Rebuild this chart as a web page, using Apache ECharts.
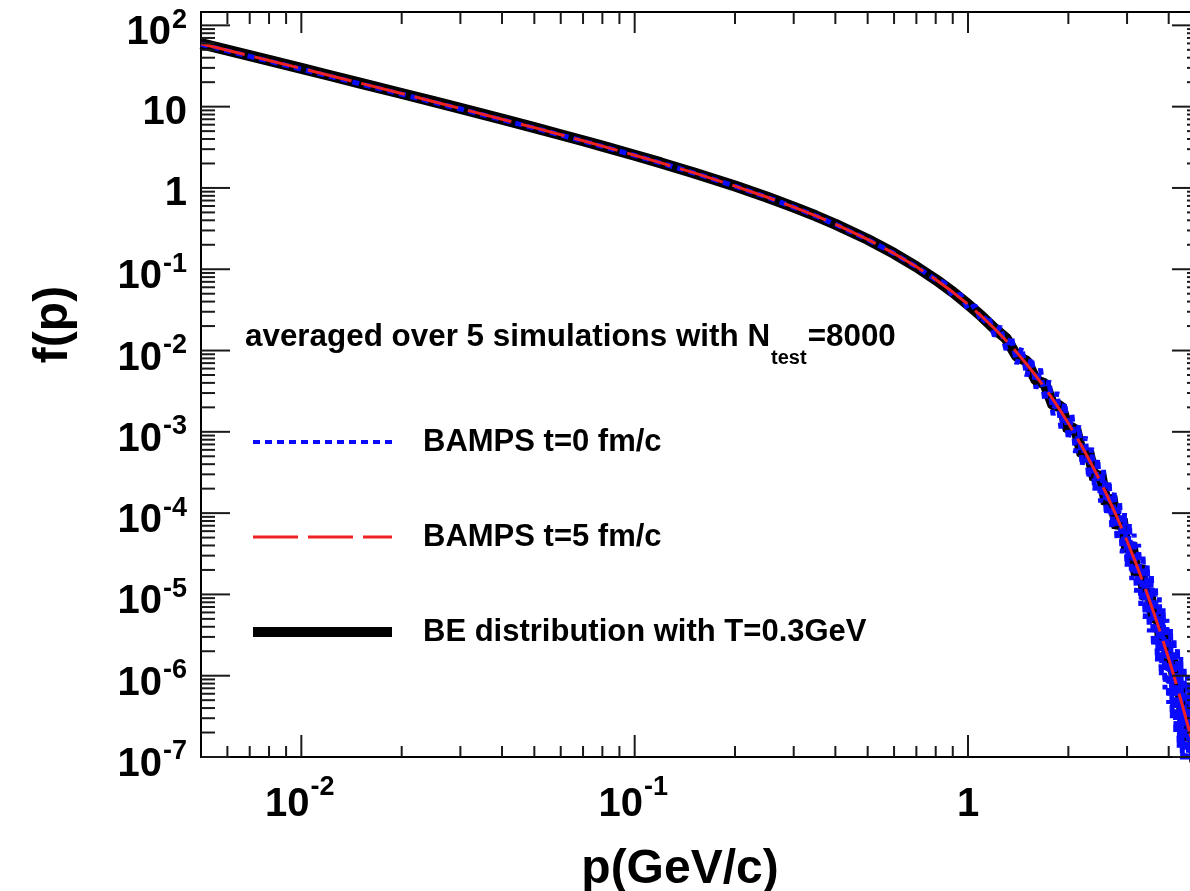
<!DOCTYPE html>
<html>
<head>
<meta charset="utf-8">
<script src="https://cdn.jsdelivr.net/npm/echarts@6/dist/echarts.min.js"></script>
<style>
html,body{margin:0;padding:0;background:#ffffff;}
#chart{width:1190px;height:891px;}
</style>
</head>
<body>
<div id="chart"></div>
<script>
// ---------------- data ----------------
const seriesNames = ['BAMPS t=0 fm/c', 'BAMPS t=5 fm/c', 'BE distribution with T=0.3GeV'];

// BE distribution (black)
const beMomentum = [0.005,0.006,0.007,0.008,0.01,0.012,0.015,0.02,0.025,0.03,0.04,0.05,0.06,0.07,0.08,0.1,0.12,0.15,0.2,0.25,0.3,0.35,0.4,0.5,0.6,0.7,0.8,0.9,1.0,1.1,1.2,
 1.3,1.4,1.5,1.6,1.7,1.8,1.9,2.0,2.1,2.2,2.3,2.4,2.5,2.6,2.7,2.8,2.9,3.0,3.1,3.2,3.3,3.4,3.5,3.6,3.7,3.8,3.9,4.0,4.1,4.2,4.3,4.4,4.5,4.6,4.7,4.8,4.9,5.0];
const beValues = [59.5,49.5,42.36,37.0,29.5,24.5,19.5,14.51,11.51,9.508,7.011,5.514,4.517,3.805,3.272,2.528,2.033,1.5415,1.0551,0.7687,0.582,0.4523,0.358,0.2329,0.1565,0.1074,0.07467,0.0524,0.03699,0.02623,0.01866,
 0.0142,0.0085,0.0074,0.0043,0.0039,0.0021,0.0021,0.00105,0.00112,0.00052,0.00058,0.00026,0.00031,0.000130,0.000160,0.000066,0.000085,0.000034,0.000043,0.0000172,0.0000225,0.0000088,0.0000118,0.0000046,0.0000061,0.0000024,0.0000032,0.00000125,0.0000016,0.00000064,0.00000085,0.00000032,0.00000044,0.00000016,0.00000022,0.00000008,0.00000011,0.00000004];

// BAMPS t=5 fm/c (red dashed)
const t5Momentum = [0.005,0.006,0.007,0.008,0.01,0.012,0.015,0.02,0.025,0.03,0.04,0.05,0.06,0.07,0.08,0.1,0.12,0.15,0.2,0.25,0.3,0.35,0.4,0.5,0.6,0.7,0.8,0.9,1.0,1.1,1.2,1.3,1.4,1.5,1.6,1.7,1.8,1.9,2.0,2.2,2.4,2.6,2.8,3.0,3.2,3.4,3.6,3.8,4.0,4.2,4.4,4.6,4.8,5.0];
const t5Values = [59.5,49.5,42.36,37.0,29.5,24.5,19.5,14.51,11.51,9.508,7.011,5.514,4.517,3.805,3.272,2.528,2.033,1.5415,1.0551,0.7687,0.582,0.4523,0.358,0.2329,0.1565,0.1074,0.07467,0.0524,0.03699,0.02623,0.01866,0.0133,0.009492,0.006784,0.004851,0.003472,0.002485,0.00178,0.001274,0.000654,0.0003356,0.0001723,0.0000884,0.0000454,0.0000233,0.00001197,0.00000614,0.00000315,0.00000162,0.00000083,0.000000427,0.000000219,0.000000112,0.000000058];

// BAMPS t=0 fm/c (blue dotted, noisy tail)
const t0Momentum = [0.005,0.006,0.007,0.008,0.01,0.012,0.015,0.02,0.025,0.03,0.04,0.05,0.06,0.07,0.08,0.1,0.12,0.15,0.2,0.25,0.3,0.35,0.4,0.5,0.6,0.7,0.8,
 0.85,0.9,0.95,1.0,1.05,1.1,1.15,1.2,1.25,1.3,1.35,1.4,1.45,1.5,1.55,1.6,1.65,1.7,1.75,1.8,1.85,1.9,1.95,2.0,
 2.05,2.1,2.15,2.2,2.25,2.3,2.35,2.4,2.45,2.5,2.55,2.6,2.65,2.7,2.75,2.8,2.85,2.9,2.95,3.0,
 3.05,3.1,3.15,3.2,3.25,3.3,3.35,3.4,3.45,3.5,3.55,3.6,3.65,3.7,3.75,3.8,3.85,3.9,3.95,4.0,
 4.05,4.1,4.15,4.2,4.25,4.3,4.35,4.4,4.45,4.5,4.55,4.6,4.65,4.7];
const t0Values = [58.5,48.6,41.5,36.3,28.9,24.0,19.1,14.2,11.3,9.35,6.9,5.45,4.47,3.77,3.24,2.51,2.02,1.535,1.05,0.766,0.58,0.451,0.357,0.232,0.156,0.107,0.0745,
 0.068,0.047,0.049,0.032,0.036,0.022,0.027,0.0150,0.0200,0.0102,0.0150,0.0068,0.0110,0.0048,0.0082,0.0034,0.0060,0.0024,0.0043,0.0016,0.0031,0.0011,0.0023,0.00080,
 0.00165,0.00055,0.00120,0.00038,0.00088,0.00027,0.00064,0.00019,0.00047,0.000135,0.00034,0.000095,0.00025,0.000066,0.000185,0.000046,0.000135,0.000032,0.000100,0.000022,
 0.000075,0.000015,0.000056,0.0000105,0.000042,0.0000072,0.000031,0.0000050,0.000023,0.0000034,0.000017,0.0000023,0.0000125,0.0000015,0.0000092,0.0000010,0.0000068,0.00000068,0.0000050,0.00000045,
 0.0000038,0.00000030,0.0000029,0.00000020,0.0000022,0.00000013,0.0000017,0.00000008,0.0000013,0.00000005,0.0000010,0.00000004,0.00000080,0.00000003];

// ticks and labels
const xMajorTicks = [0.01, 0.1, 1];
const xMinorTicks = [0.006,0.007,0.008,0.009,0.02,0.03,0.04,0.05,0.06,0.07,0.08,0.09,0.2,0.3,0.4,0.5,0.6,0.7,0.8,0.9,2,3,4];
const yMajorTicks = [1e-7,1e-6,1e-5,1e-4,1e-3,1e-2,1e-1,1,10,100];
const yMinorSteps = [2,3,4,5,6,7,8,9];
const xTickLabels = [['10','-2'], ['10','-1'], ['1','']];
const yTickLabels = [['10','-7'],['10','-6'],['10','-5'],['10','-4'],['10','-3'],['10','-2'],['10','-1'],['1',''],['10',''],['10','2']];

const annotationMain = 'averaged over 5 simulations with N';
const annotationSub = 'test';
const annotationTail = '=8000';
const xTitle = 'p(GeV/c)';
const yTitle = 'f(p)';

const X_MIN = 0.005, X_MAX = 5, Y_MIN = 1e-7, Y_MAX = 146;

// ---------------- helpers ----------------
const FAM = '"Liberation Sans", Arial, Helvetica, sans-serif';
const MAIN_FONT = 'bold 40px ' + FAM;
const SUP_FONT = 'bold 27px ' + FAM;
const mctx = document.createElement('canvas').getContext('2d');
function textW(str, font) { mctx.font = font; return mctx.measureText(str).width; }
const zip = (a, b) => a.map((v, i) => [v, b[i]]);
const yMinorTicks = [];
yMajorTicks.forEach(d => yMinorSteps.forEach(s => { const v = d * s; if (v < Y_MAX) yMinorTicks.push(v); }));

function txt(x, y, text, font, align) {
  return {type: 'text', x: x, y: y, silent: true,
          style: {text: text, font: font, fill: '#000', textAlign: align, textVerticalAlign: 'middle'}};
}

function xTickSeries(vals, lenB, lenT) {
  return {
    type: 'custom', silent: true, z: 10, clip: false,
    data: vals.map(v => [v, Y_MIN]), encode: {x: 0, y: 1},
    renderItem: function (params, api) {
      const cs = params.coordSys;
      const px = api.coord([api.value(0), Y_MIN])[0];
      const yb = cs.y + cs.height, yt = cs.y;
      const st = {stroke: '#1a1a1a', lineWidth: 2};
      return {type: 'group', children: [
        {type: 'line', shape: {x1: px, y1: yb, x2: px, y2: yb - lenB}, style: st},
        {type: 'line', shape: {x1: px, y1: yt, x2: px, y2: yt + lenT}, style: st}
      ]};
    }
  };
}
function yTickSeries(vals, len) {
  return {
    type: 'custom', silent: true, z: 10, clip: false,
    data: vals.map(v => [X_MIN, v]), encode: {x: 0, y: 1},
    renderItem: function (params, api) {
      const cs = params.coordSys;
      const py = api.coord([X_MIN, api.value(1)])[1];
      const xl = cs.x, xr = cs.x + cs.width;
      const st = {stroke: '#1a1a1a', lineWidth: 2};
      return {type: 'group', children: [
        {type: 'line', shape: {x1: xl, y1: py, x2: xl + len, y2: py}, style: st},
        {type: 'line', shape: {x1: xr, y1: py, x2: xr - len, y2: py}, style: st}
      ]};
    }
  };
}
function xLabelSeries() {
  return {
    type: 'custom', silent: true, z: 11, clip: false,
    data: xMajorTicks.map((v, i) => [v, Y_MIN, i]), encode: {x: 0, y: 1},
    renderItem: function (params, api) {
      const cs = params.coordSys;
      const px = api.coord([api.value(0), Y_MIN])[0];
      const lab = xTickLabels[api.value(2)];
      const yb = cs.y + cs.height;
      if (!lab[1]) return {type: 'group', children: [txt(px, yb + 48, lab[0], MAIN_FONT, 'center')]};
      const wm = textW(lab[0], MAIN_FONT), ws = textW(lab[1], SUP_FONT);
      const left = px - 2 - (wm + ws) / 2;
      return {type: 'group', children: [
        txt(left, yb + 48, lab[0], MAIN_FONT, 'left'),
        txt(left + wm + 1, yb + 31, lab[1], SUP_FONT, 'left')
      ]};
    }
  };
}
function yLabelSeries() {
  return {
    type: 'custom', silent: true, z: 11, clip: false,
    data: yMajorTicks.map((v, i) => [X_MIN, v, i]), encode: {x: 0, y: 1},
    renderItem: function (params, api) {
      const cs = params.coordSys;
      const py = api.coord([X_MIN, api.value(1)])[1];
      const lab = yTickLabels[api.value(2)];
      const xr = cs.x - 14;
      if (!lab[1]) return {type: 'group', children: [txt(xr, py + 6, lab[0], MAIN_FONT, 'right')]};
      const ws = textW(lab[1], SUP_FONT);
      return {type: 'group', children: [
        txt(xr, py - 5, lab[1], SUP_FONT, 'right'),
        txt(xr - ws - 1, py + 8, lab[0], MAIN_FONT, 'right')
      ]};
    }
  };
}

// ---------------- chart ----------------
const ANN_FONT = 'bold 31.4px ' + FAM;
const ANN_SUB_FONT = 'bold 20px ' + FAM;
const annX = 245;
const wMain = textW(annotationMain, ANN_FONT);
const wSub = textW(annotationSub, ANN_SUB_FONT);

const chart = echarts.init(document.getElementById('chart'), null, {renderer: 'canvas'});
chart.setOption({
  animation: false,
  backgroundColor: '#ffffff',
  grid: {left: 201, top: 12, width: 1000, height: 745, show: true, borderColor: '#000', borderWidth: 2,
         backgroundColor: 'transparent', containLabel: false, outerBoundsMode: 'none'},
  xAxis: {
    type: 'log', logBase: 10, min: X_MIN, max: X_MAX,
    axisLine: {show: false}, axisTick: {show: false}, splitLine: {show: false}, minorTick: {show: false},
    axisLabel: {show: false},
    name: xTitle, nameLocation: 'middle', nameGap: 89,
    nameTextStyle: {fontSize: 48, fontWeight: 'bold', fontFamily: FAM, color: '#000', padding: [0, 42, 0, 0]}
  },
  yAxis: {
    type: 'log', logBase: 10, min: Y_MIN, max: Y_MAX,
    axisLine: {show: false}, axisTick: {show: false}, splitLine: {show: false}, minorTick: {show: false},
    axisLabel: {show: false},
    name: yTitle, nameLocation: 'middle', nameGap: 123,
    nameTextStyle: {fontSize: 48, fontWeight: 'bold', fontFamily: FAM, color: '#000', padding: [0, 0, 0, 120]}
  },
  legend: {
    orient: 'vertical', left: 243, top: 421, padding: 5,
    itemWidth: 139, itemHeight: 14, itemGap: 63, selectedMode: false,
    itemStyle: {opacity: 0},
    textStyle: {fontSize: 31, fontWeight: 'bold', fontFamily: FAM, color: '#000', lineHeight: 32, padding: [0, 0, 0, 26]},
    data: [
      {name: seriesNames[0], lineStyle: {width: 4}},
      {name: seriesNames[1], lineStyle: {width: 3}},
      {name: seriesNames[2], lineStyle: {width: 10}}
    ]
  },
  graphic: [
    {type: 'text', x: annX, y: 337, silent: true,
     style: {text: annotationMain, font: ANN_FONT, fill: '#000', textAlign: 'left', textVerticalAlign: 'middle'}},
    {type: 'text', x: annX + wMain + 1, y: 358, silent: true,
     style: {text: annotationSub, font: ANN_SUB_FONT, fill: '#000', textAlign: 'left', textVerticalAlign: 'middle'}},
    {type: 'text', x: annX + wMain + wSub + 2, y: 337, silent: true,
     style: {text: annotationTail, font: ANN_FONT, fill: '#000', textAlign: 'left', textVerticalAlign: 'middle'}}
  ],
  series: [
    {name: seriesNames[2], type: 'line', data: zip(beMomentum, beValues), symbol: 'none', z: 2, silent: true,
     lineStyle: {color: '#000000', width: 11}},
    {name: seriesNames[0], type: 'line', data: zip(t0Momentum, t0Values), symbol: 'none', z: 3, silent: true,
     lineStyle: {color: '#0a0aff', width: 5, type: [7, 5]}},
    {name: seriesNames[1], type: 'line', data: zip(t5Momentum, t5Values), symbol: 'none', z: 4, silent: true,
     lineStyle: {color: '#ee2222', width: 3, type: [45, 10]}},
    xTickSeries(xMajorTicks, 22, 21),
    xTickSeries(xMinorTicks, 11, 12),
    yTickSeries(yMajorTicks, 29),
    yTickSeries(yMinorTicks, 14),
    xLabelSeries(),
    yLabelSeries()
  ]
});
</script>
</body>
</html>
